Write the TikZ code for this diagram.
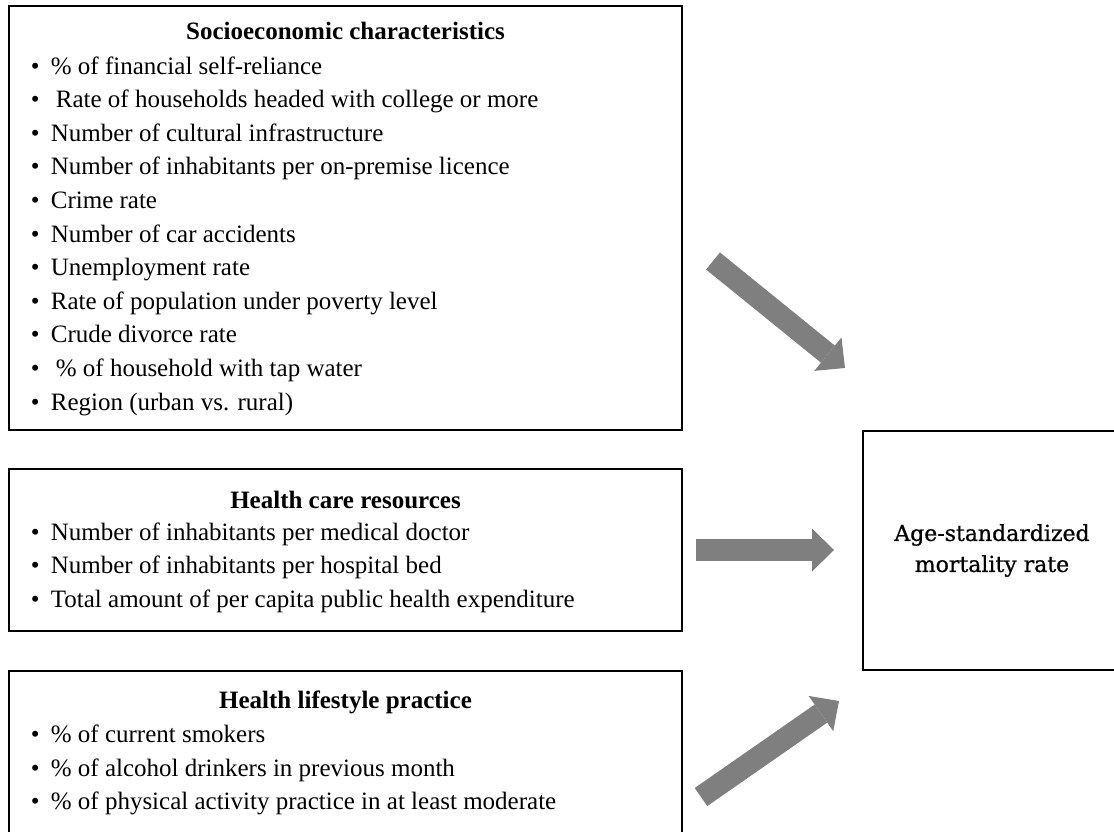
\documentclass[tikz,border=0pt]{standalone}
\usepackage{fontspec}
\setmainfont{Liberation Serif}
\newfontfamily\ratefont[FakeBold=0.8]{DejaVu Serif}
\usetikzlibrary{arrows.meta}
\definecolor{arrowgray}{RGB}{127,127,127}
\newcommand{\itm}{\textbullet\hspace{0.45em}}

\begin{document}
\begin{tikzpicture}[x=0.5pt, y=-0.5pt,
    box/.style={draw, line width=1pt, minimum width=336.5pt, inner sep=0pt},
    heading/.style={anchor=base, inner sep=0pt, font=\fontsize{12.5}{15}\selectfont\bfseries},
    item/.style={anchor=base west, inner sep=0pt, font=\fontsize{12.5}{15}\selectfont},
    flow/.style={arrowgray, line width=11pt, -{Triangle[length=11pt, width=21.5pt, line width=0pt]}}]
    \useasboundingbox (0,0) rectangle (1114,831);
    \clip (0,0) rectangle (1114,831);

    % boxes on the left
    \node[box, minimum height=212pt] (socio) at (345.5,218) {};
    \node[box, minimum height=81pt] (care) at (345.5,550) {};
    \node[box, minimum height=104.5pt] (life) at (345.5,775.5) {};

    \node[heading] (sociohead) at (345.5,39) {Socioeconomic characteristics};
    \node[item] (s1) at (30.5,74) {\itm\% of financial self-reliance};
    \node[item] (s2) at (30.5,107.6) {\itm\hspace{2.5pt}Rate of households headed with college or more};
    \node[item] (s3) at (30.5,141.2) {\itm Number of cultural infrastructure};
    \node[item] (s4) at (30.5,174.8) {\itm Number of inhabitants per on-premise licence};
    \node[item] (s5) at (30.5,208.4) {\itm Crime rate};
    \node[item] (s6) at (30.5,242) {\itm Number of car accidents};
    \node[item] (s7) at (30.5,275.6) {\itm Unemployment rate};
    \node[item] (s8) at (30.5,309.2) {\itm Rate of population under poverty level};
    \node[item] (s9) at (30.5,342.8) {\itm Crude divorce rate};
    \node[item] (s10) at (30.5,376.4) {\itm\hspace{2.5pt}\% of household with tap water};
    \node[item] (s11) at (30.5,410) {\itm Region (urban vs. rural)};

    \node[heading] (carehead) at (345.5,508) {Health care resources};
    \node[item] (c1) at (30.5,540) {\itm Number of inhabitants per medical doctor};
    \node[item] (c2) at (30.5,573.5) {\itm Number of inhabitants per hospital bed};
    \node[item] (c3) at (30.5,607) {\itm Total amount of per capita public health expenditure};

    \node[heading] (lifehead) at (345.5,708) {Health lifestyle practice};
    \node[item] (l1) at (30.5,742.5) {\itm\% of current smokers};
    \node[item] (l2) at (30.5,776) {\itm\% of alcohol drinkers in previous month};
    \node[item] (l3) at (30.5,809.5) {\itm\% of physical activity practice in at least moderate};

    % outcome
    \node[draw, line width=1pt, minimum width=129pt, minimum height=119.5pt, align=center,
      font=\ratefont\fontsize{11}{15.5}\selectfont] (rate) at (992,550.5) {Age-standardized\\mortality rate};

    % block arrows
    \coordinate (sociotail) at (713,261);
    \coordinate (sociotip) at (845,368);
    \coordinate (caretail) at (696,550);
    \coordinate (caretip) at (834,550);
    \coordinate (lifetail) at (701,797);
    \coordinate (lifetip) at (839,701);
    \draw[flow] (sociotail) -- (sociotip);
    \draw[flow] (caretail) -- (caretip);
    \draw[flow] (lifetail) -- (lifetip);
\end{tikzpicture}
\end{document}
